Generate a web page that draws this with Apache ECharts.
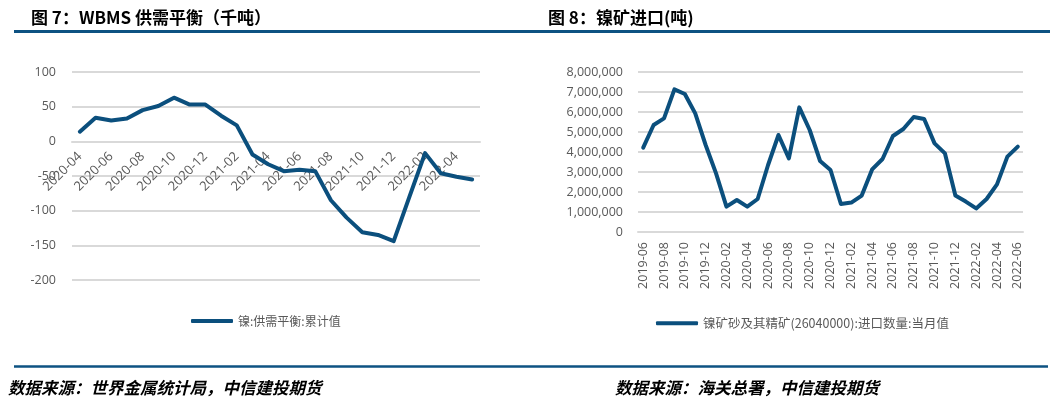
<!DOCTYPE html>
<html lang="zh">
<head>
    <meta charset="UTF-8">
    <title>WBMS 供需平衡 / 镍矿进口</title>
    <script src="https://cdn.jsdelivr.net/npm/echarts@6/dist/echarts.min.js"></script>
    <style>
        html, body { margin: 0; padding: 0; background: #fff; }
        #chart { width: 1052px; height: 399px; }
    </style>
</head>
<body>
    <div id="chart"></div>
    <script>
        // 图7: WBMS 供需平衡 (千吨), 2020-04 .. 2022-05
        const balanceMonths = ['2020-04','2020-05','2020-06','2020-07','2020-08','2020-09','2020-10','2020-11','2020-12',
            '2021-01','2021-02','2021-03','2021-04','2021-05','2021-06','2021-07','2021-08','2021-09','2021-10','2021-11','2021-12',
            '2022-01','2022-02','2022-03','2022-04','2022-05'];
        const balanceValues = [14, 34, 30, 33, 45, 51, 63, 53, 53,
            37, 23, -19, -33, -43, -41, -43, -85, -110, -131, -135, -144,
            -80, -17, -46, -51, -55];

        // 图8: 镍矿进口 (吨), 2019-06 .. 2022-06
        const importMonths = ['2019-06','2019-07','2019-08','2019-09','2019-10','2019-11','2019-12',
            '2020-01','2020-02','2020-03','2020-04','2020-05','2020-06','2020-07','2020-08','2020-09','2020-10','2020-11','2020-12',
            '2021-01','2021-02','2021-03','2021-04','2021-05','2021-06','2021-07','2021-08','2021-09','2021-10','2021-11','2021-12',
            '2022-01','2022-02','2022-03','2022-04','2022-05','2022-06'];
        const importValues = [4220000, 5350000, 5680000, 7130000, 6900000, 5930000, 4350000,
            2930000, 1270000, 1600000, 1270000, 1650000, 3350000, 4850000, 3680000, 6230000, 5100000, 3550000, 3100000,
            1400000, 1470000, 1820000, 3130000, 3650000, 4800000, 5150000, 5750000, 5650000, 4430000, 3930000, 1820000,
            1520000, 1180000, 1650000, 2380000, 3770000, 4270000];

        const balanceName = '镍:供需平衡:累计值';
        const importName = '镍矿砂及其精矿(26040000):进口数量:当月值';

        const blue = '#0b4f7d';
        const grey = '#595959';
        const gridGrey = '#d9d9d9';
        const font = "'Open Sans', 'Noto Sans CJK SC', sans-serif";
        const cjk = "'Noto Sans CJK SC', sans-serif";

        // left grid geometry, used to lift the category axis up to the zero line
        const leftTop = 72, leftBottom = 119, leftMin = -200, leftMax = 100;
        const leftHeight = 399 - leftTop - leftBottom;
        const zeroOffset = -leftHeight * (0 - leftMin) / (leftMax - leftMin);

        const myChart = echarts.init(document.getElementById('chart'));

        const option = {
            animation: false,
            textStyle: { fontFamily: font },
            title: [
                { text: '图 7：WBMS 供需平衡（千吨）', left: 26, top: 4,
                  textStyle: { fontFamily: cjk, fontSize: 17, fontWeight: 'bold', color: '#000' } },
                { text: '图 8：镍矿进口(吨)', left: 543, top: 4,
                  textStyle: { fontFamily: cjk, fontSize: 17, fontWeight: 'bold', color: '#000' } },
                { text: '数据来源：世界金属统计局，中信建投期货', left: 3, top: 374,
                  textStyle: { fontFamily: cjk, fontSize: 16.5, fontWeight: 'bold', fontStyle: 'italic', color: '#000' } },
                { text: '数据来源：海关总署，中信建投期货', left: 610, top: 374,
                  textStyle: { fontFamily: cjk, fontSize: 16.5, fontWeight: 'bold', fontStyle: 'italic', color: '#000' } }
            ],
            graphic: [
                { type: 'line', shape: { x1: 14, y1: 31.5, x2: 1050, y2: 31.5 }, style: { stroke: '#0d5282', lineWidth: 3 } },
                { type: 'line', shape: { x1: 14, y1: 366.5, x2: 1048, y2: 366.5 }, style: { stroke: '#0d5282', lineWidth: 2.5 } }
            ],
            legend: [
                { data: [balanceName], left: 186, top: 310, icon: 'roundRect', itemWidth: 42, itemHeight: 4, itemGap: 5,
                  textStyle: { color: grey, fontSize: 12, fontFamily: cjk } },
                { data: [importName], left: 651, top: 312, icon: 'roundRect', itemWidth: 42, itemHeight: 4, itemGap: 5,
                  textStyle: { color: grey, fontSize: 12.5, fontFamily: cjk } }
            ],
            grid: [
                { left: 72, right: 572, top: leftTop, bottom: leftBottom },
                { left: 638, right: 29, top: 72, bottom: 167 }
            ],
            xAxis: [
                {
                    type: 'category', gridIndex: 0, data: balanceMonths,
                    position: 'bottom', offset: zeroOffset,
                    axisLine: { onZero: false, lineStyle: { color: gridGrey, width: 2 } },
                    axisTick: { interval: 1, length: 4, lineStyle: { color: gridGrey, width: 2 } },
                    axisLabel: { interval: 1, rotate: 45, margin: 13, color: grey, fontSize: 13 }
                },
                {
                    type: 'category', gridIndex: 1, data: importMonths,
                    axisLine: { lineStyle: { color: gridGrey, width: 2 } },
                    axisTick: { interval: 1, length: 4, lineStyle: { color: gridGrey, width: 2 } },
                    axisLabel: { interval: 1, rotate: 90, margin: 10, color: grey, fontSize: 12.5 }
                }
            ],
            yAxis: [
                {
                    type: 'value', gridIndex: 0, min: leftMin, max: leftMax, interval: 50,
                    axisLine: { show: false }, axisTick: { show: false },
                    splitLine: { lineStyle: { color: gridGrey, width: 2 } },
                    axisLabel: { color: grey, fontSize: 12.5, margin: 16 }
                },
                {
                    type: 'value', gridIndex: 1, min: 0, max: 8000000, interval: 1000000,
                    axisLine: { show: false }, axisTick: { show: false },
                    splitLine: { lineStyle: { color: gridGrey, width: 2 } },
                    axisLabel: { color: grey, fontSize: 12.5, margin: 15,
                        formatter: v => v.toLocaleString('en-US') }
                }
            ],
            series: [
                { name: balanceName, type: 'line', xAxisIndex: 0, yAxisIndex: 0, data: balanceValues,
                  showSymbol: false, smooth: false, color: blue,
                  lineStyle: { width: 4, color: blue, cap: 'round', join: 'round' } },
                { name: importName, type: 'line', xAxisIndex: 1, yAxisIndex: 1, data: importValues,
                  showSymbol: false, smooth: false, color: blue,
                  lineStyle: { width: 4, color: blue, cap: 'round', join: 'round' } }
            ]
        };

        myChart.setOption(option);
    </script>
</body>
</html>
